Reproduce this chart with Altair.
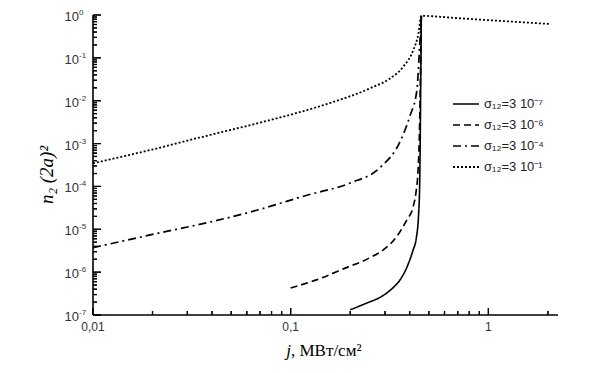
import altair as alt
import pandas as pd

# ---- data (x in MW/cm^2, y as log10 values) ----
labels = ["σ₁₂=3 10⁻⁷", "σ₁₂=3 10⁻⁶", "σ₁₂=3 10⁻⁴", "σ₁₂=3 10⁻¹"]

x_s7 = [0.2, 0.24, 0.29, 0.33, 0.36, 0.39, 0.415, 0.432, 0.443, 0.449, 0.452, 0.455, 0.458]
ly_s7 = [-6.88, -6.73, -6.56, -6.36, -6.16, -5.85, -5.5, -5.2, -4.7, -4.0, -3.0, -1.5, -0.02]

x_s6 = [0.1, 0.135, 0.19, 0.25, 0.294, 0.344, 0.387, 0.415, 0.43, 0.44, 0.448, 0.454, 0.458]
ly_s6 = [-6.37, -6.18, -5.9, -5.67, -5.48, -5.17, -4.78, -4.5, -4.15, -3.69, -2.75, -1.2, -0.02]

x_s4 = [0.01, 0.02, 0.04, 0.068, 0.122, 0.2, 0.283, 0.358, 0.40, 0.435, 0.448, 0.458]
ly_s4 = [-5.43, -5.12, -4.82, -4.55, -4.2, -3.92, -3.56, -2.95, -2.37, -1.75, -0.82, -0.02]

x_s1 = [0.01, 0.0195, 0.039, 0.079, 0.147, 0.255, 0.318, 0.372, 0.417, 0.443, 0.458,
        0.7, 1.0, 1.4, 2.06]
ly_s1 = [-3.46, -3.15, -2.80, -2.45, -2.10, -1.70, -1.48, -1.2, -0.82, -0.43, -0.02,
         -0.074, -0.12, -0.163, -0.21]

# axis ticks and tick labels
y_major = [1.0, 1e-1, 1e-2, 1e-3, 1e-4, 1e-5, 1e-6, 1e-7]
y_exponents = ["0", "-1", "-2", "-3", "-4", "-5", "-6", "-7"]
y_minor = [m * 10.0 ** k for k in range(-7, 0) for m in range(2, 10)]
x_major = [0.01, 0.1, 1.0]
x_major_labels = ["0,01", "0,1", "1"]
x_minor = [m * 10.0 ** k for k in (-2, -1) for m in range(2, 10)] + [2.0]
x_title = ["j", ", МВт/см²"]
y_title = "n₂ (2a)²"

rows = []
for lab, xs, lys in zip(labels, [x_s7, x_s6, x_s4, x_s1], [ly_s7, ly_s6, ly_s4, ly_s1]):
    for i, (xv, lv) in enumerate(zip(xs, lys)):
        rows.append({"series": lab, "x": xv, "y": 10.0 ** lv, "order": i})
df = pd.DataFrame(rows)

W, H = 465, 300
xscale = alt.Scale(type="log", domain=[0.01, 2.25], nice=False)
yscale = alt.Scale(type="log", domain=[1e-7, 1], nice=False)


def vals(lst):
    return alt.Data(values=[{"v": v} for v in lst])


lines = alt.Chart(df).mark_line(color="black", clip=True, interpolate="monotone").encode(
    x=alt.X("x:Q", scale=xscale, axis=None),
    y=alt.Y("y:Q", scale=yscale, axis=None),
    strokeDash=alt.StrokeDash("series:N",
                              scale=alt.Scale(domain=labels,
                                              range=[[1, 0], [7, 4], [8, 4, 2, 4], [2, 2]]),
                              legend=alt.Legend(title=None, orient="none",
                                                legendX=359, legendY=75,
                                                symbolType="stroke", symbolSize=676,
                                                symbolStrokeColor="black",
                                                symbolStrokeWidth=1.6,
                                                labelFont="Liberation Sans",
                                                labelFontSize=13, labelColor="#222222",
                                                rowPadding=0, padding=0)),
    strokeWidth=alt.StrokeWidth("series:N",
                                scale=alt.Scale(domain=labels, range=[1.6, 1.8, 1.8, 2.0]),
                                legend=None),
    order="order:Q",
)

# axis lines
y_domain = alt.Chart(pd.DataFrame({"a": [0]})).mark_rule(color="black", strokeWidth=1.6).encode(
    x=alt.value(0), y=alt.value(0), y2=alt.value(H))
x_domain = alt.Chart(pd.DataFrame({"a": [0]})).mark_rule(color="black", strokeWidth=1.6).encode(
    x=alt.value(0), x2=alt.value(W), y=alt.value(H))

# inward tick marks, positioned through the shared scales
ytick_major = alt.Chart(vals(y_major)).mark_tick(
    color="black", orient="horizontal", size=8, thickness=1.2, opacity=1).encode(
    y=alt.Y("v:Q", scale=yscale, axis=None), x=alt.value(4))
ytick_minor = alt.Chart(vals(y_minor)).mark_tick(
    color="black", orient="horizontal", size=4, thickness=1.2, opacity=1).encode(
    y=alt.Y("v:Q", scale=yscale, axis=None), x=alt.value(2))
xtick_major = alt.Chart(vals(x_major)).mark_tick(
    color="black", orient="vertical", size=7, thickness=1.2, opacity=1).encode(
    x=alt.X("v:Q", scale=xscale, axis=None), y=alt.value(H - 3.5))
xtick_minor = alt.Chart(vals(x_minor)).mark_tick(
    color="black", orient="vertical", size=4, thickness=1.2, opacity=1).encode(
    x=alt.X("v:Q", scale=xscale, axis=None), y=alt.value(H - 2))

# the same ticks as rules (backup)
yrule_major = alt.Chart(vals(y_major)).mark_rule(color="black", strokeWidth=1.2).encode(
    y=alt.Y("v:Q", scale=yscale, axis=None), x=alt.value(0), x2=alt.value(8))
yrule_minor = alt.Chart(vals(y_minor)).mark_rule(color="black", strokeWidth=1.2).encode(
    y=alt.Y("v:Q", scale=yscale, axis=None), x=alt.value(0), x2=alt.value(4))
xrule_major = alt.Chart(vals(x_major)).mark_rule(color="black", strokeWidth=1.2).encode(
    x=alt.X("v:Q", scale=xscale, axis=None), y=alt.value(H), y2=alt.value(H - 7))
xrule_minor = alt.Chart(vals(x_minor)).mark_rule(color="black", strokeWidth=1.2).encode(
    x=alt.X("v:Q", scale=xscale, axis=None), y=alt.value(H), y2=alt.value(H - 4))

# tick labels
ylab_df = pd.DataFrame({"v": y_major, "e": y_exponents})
ylab_base = alt.Chart(ylab_df).mark_text(align="right", baseline="middle", dy=2,
                                         font="Liberation Sans", fontSize=13,
                                         color="#333333").encode(
    y=alt.Y("v:Q", scale=yscale, axis=None), x=alt.value(-14), text="t:N"
).transform_calculate(t="'10'")
ylab_exp = alt.Chart(ylab_df).mark_text(align="left", baseline="middle", dy=-2,
                                        font="Liberation Sans", fontSize=8,
                                        color="#333333").encode(
    y=alt.Y("v:Q", scale=yscale, axis=None), x=alt.value(-14), text="e:N")
xlab = alt.Chart(pd.DataFrame({"v": x_major, "t": x_major_labels})).mark_text(
    align="center", baseline="top", font="Liberation Sans", fontSize=12,
    color="#333333").encode(
    x=alt.X("v:Q", scale=xscale, axis=None), y=alt.value(H + 7), text="t:N")

# axis titles
xt_df = pd.DataFrame({"t": x_title, "k": [0, 1]})
xt_j = alt.Chart(xt_df).transform_filter("datum.k == 0").mark_text(
    align="right", baseline="alphabetic", font="Liberation Serif", fontSize=17,
    fontStyle="italic", color="black").encode(
    x=alt.value(198), y=alt.value(341), text="t:N")
xt_rest = alt.Chart(xt_df).transform_filter("datum.k == 1").mark_text(
    align="left", baseline="alphabetic", font="Liberation Serif", fontSize=17,
    color="black").encode(
    x=alt.value(198), y=alt.value(341), text="t:N")
yt = alt.Chart(pd.DataFrame({"t": [y_title]})).mark_text(
    align="center", baseline="middle", angle=270, font="Liberation Serif", fontSize=19,
    fontStyle="italic", color="black").encode(
    x=alt.value(-46), y=alt.value(160), text="t:N")

chart = alt.layer(lines, y_domain, x_domain,
                  ytick_major, ytick_minor, xtick_major, xtick_minor,
                  yrule_major, yrule_minor, xrule_major, xrule_minor,
                  ylab_base, ylab_exp, xlab, xt_j, xt_rest, yt).properties(
    width=W, height=H,
    autosize=alt.AutoSizeParams(type="none"),
    padding={"left": 85, "top": 7, "right": 20, "bottom": 50},
    background="white",
).configure_view(stroke=None)

chart.save("out.html", embed_options={"renderer": "svg", "actions": False})
